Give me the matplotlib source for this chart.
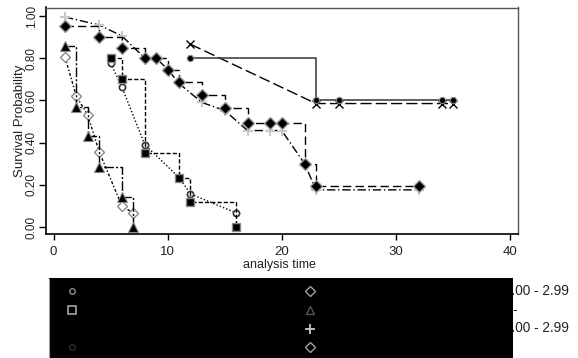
import matplotlib
matplotlib.use("Agg")
import matplotlib.pyplot as plt
from matplotlib.patches import Rectangle
from matplotlib.lines import Line2D

plt.rcParams['font.family'] = ['Liberation Sans', 'DejaVu Sans']

W, H = 578, 358

# ---- data ----
# Group A: Kaplan-Meier (filled triangle, step) and predicted (open diamond)
tA = [1, 2, 3, 4, 6, 7]
kmA = [0.857, 0.571, 0.429, 0.286, 0.143, 0.0]
tA_pred = [1, 2, 3, 4, 6, 7]
predA = [0.805, 0.62, 0.53, 0.357, 0.098, 0.067]

# Group B: KM (filled square, step) and predicted (small circle)
tB = [5, 6, 8, 11, 12, 16]
kmB = [0.80, 0.70, 0.35, 0.233, 0.117, 0.0]
tB_pred = [5, 6, 8, 11, 12, 16]
predB = [0.776, 0.662, 0.39, 0.235, 0.157, 0.067]

# Group C: KM (filled diamond, step) and predicted (grey plus)
tC = [1, 4, 6, 8, 9, 10, 11, 13, 15, 17, 19, 20, 22, 23, 32]
kmC = [0.952, 0.90, 0.848, 0.80, 0.80, 0.743, 0.686, 0.624, 0.562,
       0.495, 0.495, 0.495, 0.30, 0.195, 0.195]
predC = [0.995, 0.957, 0.905, 0.80, 0.80, 0.747, 0.68, 0.59, 0.552,
         0.457, 0.457, 0.457, 0.30, 0.176, 0.176]

# Group D: KM (filled circle, step) and predicted (x)
tD = [12, 23, 25, 34, 35]
kmD = [0.80, 0.60, 0.60, 0.60, 0.60]
predD = [0.866, 0.585, 0.585, 0.585, 0.585]

xticks = [0, 10, 20, 30, 40]
yticks = [0.0, 0.2, 0.4, 0.6, 0.8, 1.0]
ytick_labels = ["0.00", "0.20", "0.40", "0.60", "0.80", "1.00"]
legend_tail = ["2.00 - 2.99", "-", "2.00 - 2.99"]

fig = plt.figure(figsize=(W / 100, H / 100), dpi=100)
ax = fig.add_axes([46 / W, (H - 234) / H, (518 - 46) / W, (234 - 7.5) / H])

# Group C
ax.plot(tC, kmC, drawstyle='steps-post', color='black', lw=1.0,
        dashes=(6, 3), marker='D', ms=6, mfc='black', mec='#9a9a9a', mew=1.0, zorder=4)
ax.plot(tC, predC, color='black', lw=1.0, dashes=(6, 2, 1, 2),
        marker='+', ms=7.5, mec='#c8c8c8', mew=1.5, zorder=3)

# Group A
ax.plot(tA, kmA, drawstyle='steps-post', color='black', lw=1.0,
        dashes=(7, 1.5, 1.5, 1.5), marker='^', ms=6.5, mfc='black', mec='#8a8a8a', mew=0.8, zorder=4)
ax.plot(tA_pred, predA, color='black', lw=1.0, dashes=(2, 1.5, 1, 1.5),
        marker='D', ms=5.5, mfc='white', mec='#8a8a8a', mew=1.0, zorder=3)

# Group B
ax.plot(tB, kmB, drawstyle='steps-post', color='black', lw=1.0,
        dashes=(3, 1.5), marker='s', ms=6, mfc='black', mec='#8a8a8a', mew=1.0, zorder=4)
ax.plot(tB_pred, predB, color='black', lw=1.0, dashes=(1, 1.5),
        marker='o', ms=4.5, mfc='white', mec='#333333', mew=1.2, zorder=3)

# Group D
ax.plot(tD, kmD, drawstyle='steps-post', color='#333333', lw=1.1,
        marker='o', ms=4.5, mfc='black', mec='#8a8a8a', mew=0.8, zorder=4)
ax.plot(tD, predD, color='black', lw=1.0, dashes=(8, 3),
        marker='x', ms=5.5, mec='black', mew=1.0, zorder=3)

ax.set_xlim(-0.66, 40.7)
ax.set_ylim(-0.033, 1.040)
ax.set_xticks(xticks)
ax.set_yticks(yticks)
ax.set_yticklabels(ytick_labels, rotation=90, va='center')
ax.tick_params(axis='y', length=5, width=1.0, pad=1.0, labelsize=8.5, colors='black')
ax.tick_params(axis='x', length=4.3, width=1.0, pad=4.5, labelsize=9.5)
for lab in ax.get_yticklabels():
    lab.set_color('#222222')
for lab in ax.get_xticklabels():
    lab.set_color('#222222')

for s in ['top', 'right']:
    ax.spines[s].set_color('#555555')
    ax.spines[s].set_linewidth(1.0)
for s in ['left', 'bottom']:
    ax.spines[s].set_color('black')
    ax.spines[s].set_linewidth(1.2)

fig.text(20 / W, 1 - 121 / H, "Survival Probability", rotation=90,
         ha='center', va='center', fontsize=9.5, color='#222222')
fig.text(279.5 / W, 1 - 265 / H, "analysis time", ha='center', va='center',
         fontsize=9, color='#222222')

# ---- legend box ----
fig.add_artist(Rectangle((49 / W, 0), (513 - 49) / W, (H - 278) / H,
                         transform=fig.transFigure, facecolor='black',
                         edgecolor='none', zorder=5))
fig.add_artist(Line2D([49.5 / W, 49.5 / W], [0, (H - 279) / H], transform=fig.transFigure,
                      color='#9a9a9a', lw=0.8, zorder=6))

rows = [291, 310, 328.5, 347]
c1, c2 = 72, 310
keys = [
    (c1, rows[0], dict(marker='o', ms=4, mfc='none', mec='#8a8a8a', mew=1.0)),
    (c1, rows[1], dict(marker='s', ms=5.5, mfc='none', mec='#b0b0b0', mew=1.1)),
    (c1, rows[3], dict(marker='o', ms=4, mfc='none', mec='#2a2a2a', mew=1.0)),
    (c2, rows[0], dict(marker='D', ms=5.5, mfc='none', mec='#a0a0a0', mew=1.0)),
    (c2, rows[1], dict(marker='^', ms=6, mfc='none', mec='#555555', mew=1.0)),
    (c2, rows[2], dict(marker='+', ms=7, mfc='none', mec='#c8c8c8', mew=1.3)),
    (c2, rows[3], dict(marker='D', ms=5.5, mfc='none', mec='#a0a0a0', mew=1.0)),
]
for x, y, kw in keys:
    fig.add_artist(Line2D([x / W], [1 - y / H], transform=fig.transFigure,
                          linestyle='none', zorder=7, **kw))

fig.text(569 / W, 1 - rows[0] / H, legend_tail[0], ha='right', va='center',
         fontsize=9.8, color='#222222', zorder=1)
fig.text(517 / W, 1 - rows[1] / H, legend_tail[1], ha='right', va='center',
         fontsize=9.8, color='#222222', zorder=1)
fig.text(569 / W, 1 - rows[2] / H, legend_tail[2], ha='right', va='center',
         fontsize=9.8, color='#222222', zorder=1)

fig.savefig("out.png", dpi=100)
